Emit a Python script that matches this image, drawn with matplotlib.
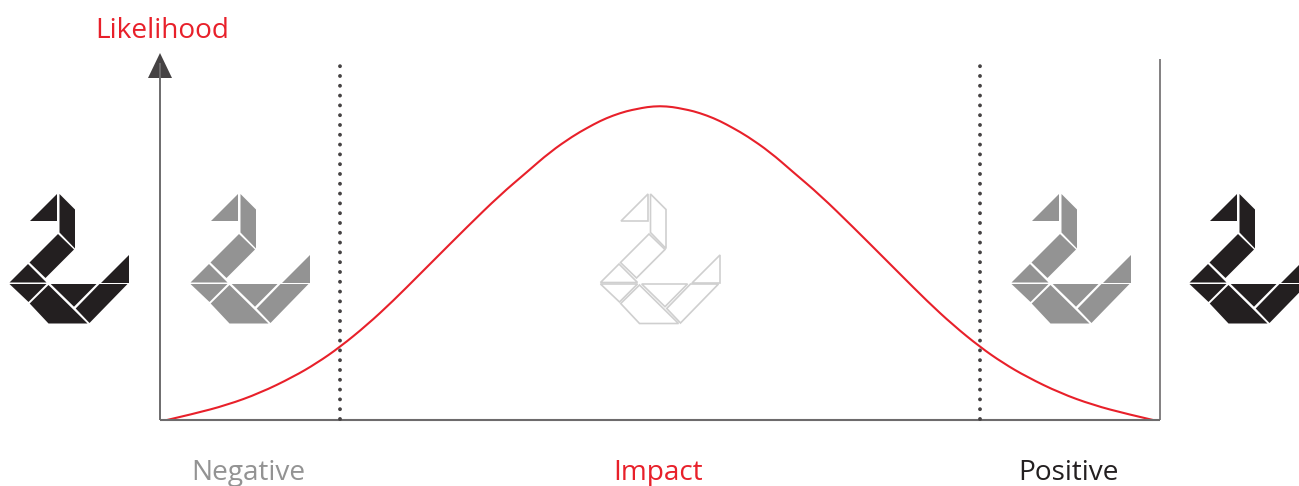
# bell curve of impact vs likelihood with tangram swans
import matplotlib
matplotlib.use("Agg")
import matplotlib.pyplot as plt
from matplotlib.patches import Polygon, PathPatch
from matplotlib.path import Path

RED = "#e8202a"
AXIS = "#6d6b6c"
DARK = "#231f20"
GREY = "#939393"
PALE = "#cfcfcf"

# curve (impact = px from the y axis, likelihood = px above the x axis)
impact = [7, 33, 67, 100, 133, 157, 180, 207, 233, 260, 273, 307, 340, 367, 390, 413,
          427, 440, 453, 467, 477, 487, 500, 513, 523, 533, 547, 560, 573, 587, 610,
          633, 660, 693, 727, 740, 767, 793, 820, 843, 867, 900, 933, 967, 993]
likelihood = [0, 6, 15, 27, 43, 57, 73, 95, 119, 146, 159, 193, 225, 248, 268, 284,
              292, 299, 304.5, 309, 311, 313, 314, 313, 311, 309, 304.5, 299, 292, 284, 268,
              248, 225, 193, 159, 146, 119, 95, 73, 57, 43, 27, 15, 6, 0]
cut_negative = 180
cut_positive = 820
x_end = 1000
y_top = 360

# tangram pieces, px inside a swan's 140x150 box
swan_pieces = [
    [(57.5, 14), (57.5, 41), (30, 41)],
    [(59.5, 14), (75, 29.5), (75, 68.5), (59.5, 52.5)],
    [(58, 54), (74, 69.5), (45.5, 98), (29.5, 82.5)],
    [(28, 84), (46.5, 102.5), (9.5, 102.5)],
    [(9.5, 104), (46.5, 104), (28.5, 122)],
    [(48.5, 105), (87.5, 143.5), (48.5, 143.5), (29.7, 123.5)],
    [(50.7, 104), (96.5, 104), (74, 126.7)],
    [(99.5, 104), (127.5, 104), (89.5, 143), (75.7, 128.5)],
    [(129.5, 75), (129.5, 102.5), (101.5, 102.5)],
]
# swan box left edge, relative to the y axis
swans = [(-160, DARK, None), (21, GREY, None), (431, None, PALE), (842, GREY, None), (1020, DARK, None)]

fig = plt.figure(figsize=(12.99, 4.86), dpi=100)
ax = fig.add_axes([0, 0, 1, 1])
ax.set_xlim(-160, 1139)
ax.set_ylim(-66, 420)
ax.axis("off")

for left, fill, edge in swans:
    for piece in swan_pieces:
        pts = [(left + px, 240 - py) for px, py in piece]
        if fill:
            ax.add_patch(Polygon(pts, closed=True, fc=fill, ec="none"))
        else:
            ax.add_patch(Polygon(pts, closed=True, fc="white", ec=edge, lw=1.2))

# axes frame
ax.plot([0, 0], [0, y_top - 3], color=AXIS, lw=1.4, solid_capstyle="butt")
ax.plot([0, x_end], [0, 0], color=AXIS, lw=1.5, solid_capstyle="butt")
ax.plot([x_end, x_end], [0, y_top + 1], color=AXIS, lw=1.2, solid_capstyle="butt")
ax.add_patch(Polygon([(0, y_top + 7), (-12, y_top - 18), (12, y_top - 18)], closed=True, fc="#454243", ec="none"))

# dotted cut offs
for cut in (cut_negative, cut_positive):
    ax.plot([cut, cut], [1, y_top - 6.5], color="#454243", lw=2.8, ls=(0, (0.01, 2.51)),
            dash_capstyle="round")

# smooth the read points with quadratic segments so the curve has no corners
verts = [(impact[0], likelihood[0])]
codes = [Path.MOVETO]
for i in range(1, len(impact) - 1):
    verts.append((impact[i], likelihood[i]))
    codes.append(Path.CURVE3)
    if i < len(impact) - 2:
        verts.append(((impact[i] + impact[i + 1]) / 2, (likelihood[i] + likelihood[i + 1]) / 2))
    else:
        verts.append((impact[-1], likelihood[-1]))
    codes.append(Path.CURVE3)
ax.add_patch(PathPatch(Path(verts, codes), fc="none", ec=RED, lw=1.5))

font = dict(family="Open Sans", fontsize=20.2, va="center", ha="center")
ax.text(2, 389, "Likelihood", color=RED, **font)
ax.text(88, -53, "Negative", color=GREY, **font)
ax.text(498, -53, "Impact", color=RED, **font)
ax.text(909, -53, "Positive", color=DARK, **font)

fig.savefig("out.png", dpi=100)
